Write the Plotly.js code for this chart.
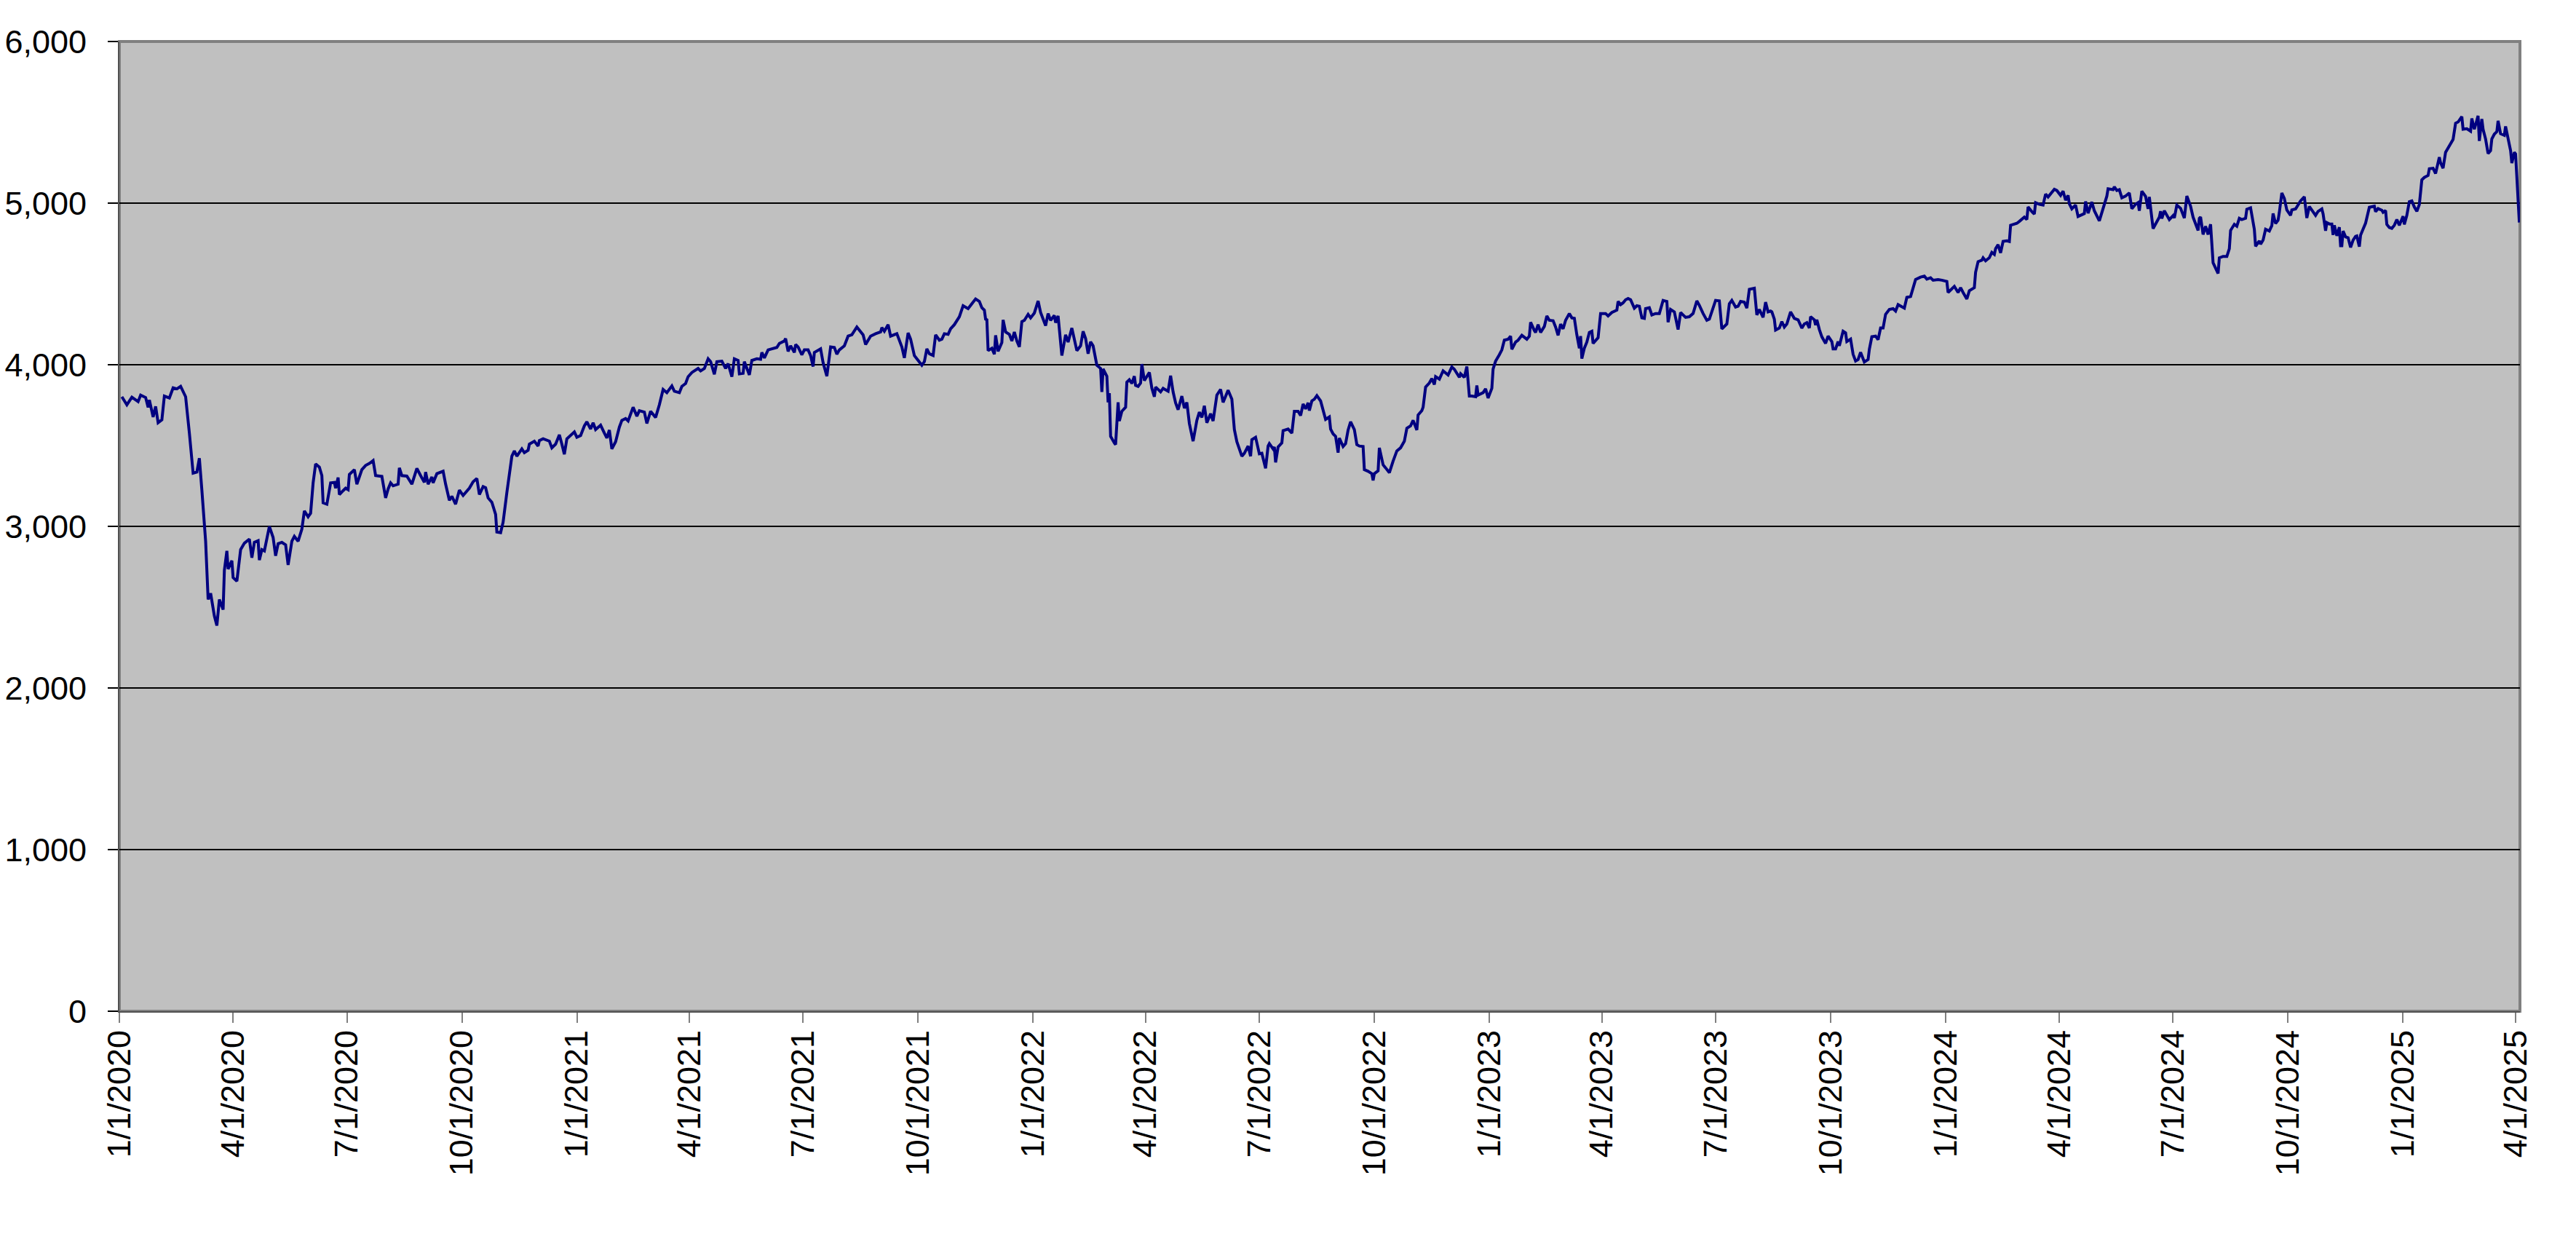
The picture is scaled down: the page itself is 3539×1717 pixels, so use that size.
<!DOCTYPE html>
<html>
<head>
<meta charset="utf-8">
<script src="https://cdn.plot.ly/plotly-3.0.1.min.js"></script>
<style>
  html, body { margin: 0; padding: 0; background: #ffffff; }
  #chart { width: 3539px; height: 1717px; }
</style>
</head>
<body>
<div id="chart"></div>
<script>
// Index closes. Dates are kept as day offsets from 1/1/2020,
// one pair of arrays per calendar year.
var days2020 = [2, 6, 10, 15, 17, 21, 23, 24, 27, 29, 31, 34, 36, 40, 43, 46, 49, 53, 56, 59,
    62, 64, 66, 69, 71, 73, 76, 78, 80, 83, 84, 86, 87, 90, 91, 94, 97, 100, 104, 106,
    108, 111, 112, 114, 116, 120, 123, 125, 127, 130, 133, 135, 138, 140, 143, 146, 148, 151, 153, 155,
    157, 160, 162, 163, 166, 169, 172, 173, 175, 176, 179, 181, 183, 184, 188, 190, 194, 197, 200, 203,
    205, 210, 213, 215, 217, 219, 223, 224, 226, 230, 234, 238, 241, 244, 245, 247, 250, 251, 254, 259,
    261, 264, 266, 269, 272, 275, 280, 283, 286, 288, 291, 293, 295, 298, 301, 302, 305, 307, 310, 314,
    316, 318, 322, 324, 327, 328, 332, 335, 336, 339, 344, 346, 349, 352, 354, 356, 358, 364];
var vals2020 = [3802, 3752, 3799, 3772, 3812, 3797, 3737, 3782, 3677, 3742, 3641, 3659, 3806, 3794, 3857, 3851, 3866, 3802, 3577, 3329,
    3336, 3422, 3224, 2908, 2548, 2586, 2446, 2386, 2548, 2485, 2728, 2848, 2736, 2788, 2683, 2661, 2856, 2896, 2921, 2806,
    2901, 2911, 2791, 2856, 2848, 2999, 2931, 2818, 2893, 2901, 2886, 2761, 2908, 2938, 2908, 2983, 3096, 3059, 3081, 3269,
    3386, 3366, 3314, 3146, 3137, 3269, 3272, 3236, 3302, 3197, 3221, 3236, 3227, 3321, 3351, 3261, 3351, 3377, 3389, 3407,
    3314, 3309, 3176, 3231, 3269, 3251, 3261, 3362, 3314, 3311, 3261, 3359, 3314, 3272, 3336, 3261, 3306, 3269, 3326, 3341,
    3261, 3161, 3186, 3137, 3224, 3191, 3236, 3276, 3296, 3197, 3246, 3239, 3176, 3149, 3074, 2965, 2961, 3026, 3209, 3434,
    3467, 3434, 3479, 3456, 3471, 3509, 3527, 3497, 3531, 3542, 3527, 3486, 3509, 3566, 3509, 3446, 3542, 3584];

var days2021 = [366, 369, 372, 374, 377, 379, 381, 385, 388, 390, 392, 394, 397, 400, 402, 405, 407, 409, 411, 414,
    416, 420, 422, 425, 429, 432, 435, 438, 442, 444, 448, 450, 453, 455, 458, 463, 465, 468, 471, 473,
    476, 478, 482, 485, 487, 490, 492, 495, 496, 499, 500, 504, 506, 510, 513, 514, 516, 519, 522, 526,
    528, 532, 533, 535, 537, 540, 541, 543, 546, 548, 551, 553, 555, 556, 561, 563, 566, 569, 572, 574,
    576, 580, 583, 586, 590, 593, 595, 597, 601, 605, 609, 610, 612, 615, 617, 622, 624, 626, 628, 631,
    633, 636, 639, 642, 644, 646, 648, 651, 653, 656, 658, 660, 663, 665, 668, 672, 675, 679, 682, 685,
    688, 690, 692, 693, 694, 695, 698, 700, 701, 703, 706, 707, 709, 712, 714, 716, 718, 720, 722, 724,
    727, 729];
var vals2021 = [3551, 3562, 3622, 3647, 3602, 3641, 3599, 3626, 3577, 3547, 3596, 3479, 3524, 3614, 3656, 3667, 3652, 3697, 3737, 3682,
    3716, 3707, 3637, 3712, 3674, 3752, 3847, 3827, 3869, 3836, 3827, 3866, 3884, 3926, 3952, 3977, 3962, 3977, 4037, 4019,
    3941, 4019, 4022, 3977, 4007, 3926, 4037, 4027, 3944, 3947, 4019, 3937, 4027, 4037, 4034, 4076, 4042, 4092, 4098, 4107,
    4132, 4147, 4162, 4083, 4117, 4076, 4125, 4110, 4061, 4092, 4092, 4057, 3989, 4076, 4098, 4012, 3929, 4110, 4107, 4065,
    4092, 4117, 4177, 4185, 4233, 4207, 4185, 4125, 4177, 4192, 4203, 4230, 4207, 4248, 4177, 4192, 4147, 4110, 4042, 4197,
    4158, 4057, 4027, 3997, 4019, 4098, 4068, 4057, 4185, 4152, 4158, 4192, 4188, 4222, 4248, 4297, 4365, 4347, 4377, 4407,
    4392, 4353, 4338, 4282, 4278, 4087, 4102, 4065, 4182, 4083, 4137, 4278, 4203, 4188, 4147, 4203, 4147, 4110, 4267, 4275,
    4312, 4290];

var days2022 = [732, 735, 737, 741, 743, 745, 748, 749, 751, 754, 757, 759, 762, 766, 769, 771, 773, 775, 777, 779,
    782, 785, 786, 787, 790, 791, 792, 793, 796, 797, 799, 800, 802, 805, 806, 808, 810, 812, 813, 815,
    817, 818, 820, 824, 826, 828, 829, 833, 835, 839, 841, 843, 845, 847, 850, 852, 854, 856, 859, 862,
    864, 866, 868, 870, 873, 875, 878, 881, 883, 885, 887, 890, 892, 894, 896, 898, 900, 903, 905, 906,
    909, 912, 914, 917, 919, 920, 923, 924, 925, 927, 930, 931, 935, 938, 940, 943, 945, 947, 949, 951,
    952, 954, 956, 958, 961, 963, 965, 968, 969, 971, 973, 975, 976, 979, 981, 983, 985, 988, 990, 992,
    995, 996, 999, 1002, 1003, 1004, 1007, 1008, 1011, 1013, 1016, 1019, 1022, 1025, 1028, 1030, 1033, 1035, 1038, 1039,
    1042, 1043, 1045, 1048, 1050, 1052, 1053, 1056, 1059, 1063, 1066, 1068, 1072, 1073, 1076, 1078, 1080, 1082, 1085, 1086,
    1087, 1091, 1093, 1095];
var vals2022 = [4320, 4395, 4323, 4242, 4317, 4275, 4305, 4260, 4302, 4057, 4185, 4140, 4227, 4087, 4117, 4207, 4162, 4068, 4142, 4117,
    3997, 3977, 3832, 3974, 3929, 3767, 3824, 3557, 3516, 3506, 3767, 3652, 3712, 3737, 3892, 3907, 3884, 3929, 3872, 3866,
    3887, 4004, 3902, 3952, 3854, 3802, 3862, 3832, 3854, 3836, 3932, 3832, 3764, 3722, 3806, 3731, 3767, 3637, 3527, 3656,
    3707, 3674, 3746, 3641, 3697, 3652, 3812, 3847, 3767, 3802, 3842, 3787, 3599, 3524, 3479, 3434, 3452, 3497, 3434, 3536,
    3551, 3449, 3452, 3359, 3497, 3512, 3479, 3491, 3396, 3491, 3516, 3592, 3602, 3577, 3712, 3712, 3686, 3757, 3727, 3764,
    3716, 3776, 3787, 3809, 3776, 3716, 3662, 3677, 3602, 3572, 3557, 3456, 3546, 3494, 3512, 3596, 3647, 3599, 3506, 3497,
    3494, 3351, 3341, 3326, 3284, 3326, 3344, 3486, 3381, 3362, 3332, 3404, 3467, 3486, 3527, 3607, 3622, 3656, 3596, 3689,
    3716, 3737, 3862, 3887, 3914, 3877, 3926, 3911, 3962, 3937, 3986, 3972, 3922, 3944, 3922, 3989, 3806, 3806, 3802, 3872,
    3812, 3827, 3851, 3794];

var days2023 = [1098, 1099, 1101, 1104, 1106, 1108, 1111, 1113, 1114, 1117, 1119, 1122, 1126, 1128, 1129, 1132, 1133, 1135, 1137, 1140,
    1142, 1144, 1147, 1149, 1151, 1153, 1155, 1157, 1159, 1160, 1162, 1164, 1166, 1168, 1169, 1170, 1172, 1174, 1176, 1178,
    1179, 1183, 1185, 1189, 1191, 1194, 1198, 1199, 1201, 1203, 1205, 1207, 1209, 1212, 1214, 1216, 1218, 1220, 1221, 1224,
    1226, 1229, 1232, 1235, 1238, 1239, 1241, 1244, 1247, 1249, 1251, 1253, 1256, 1259, 1262, 1264, 1267, 1270, 1272, 1275,
    1277, 1280, 1282, 1286, 1288, 1290, 1293, 1295, 1297, 1300, 1302, 1304, 1308, 1310, 1312, 1315, 1317, 1319, 1321, 1322,
    1324, 1325, 1328, 1330, 1332, 1334, 1337, 1340, 1343, 1346, 1348, 1350, 1352, 1353, 1356, 1357, 1358, 1360, 1362, 1365,
    1367, 1370, 1371, 1373, 1375, 1376, 1379, 1381, 1382, 1385, 1387, 1389, 1391, 1393, 1396, 1399, 1400, 1402, 1405, 1407,
    1409, 1411, 1413, 1416, 1419, 1421, 1423, 1428, 1430, 1433, 1435, 1437, 1441, 1444, 1446, 1449, 1451, 1455, 1458];
var vals2023 = [3854, 3974, 4022, 4062, 4092, 4152, 4158, 4177, 4095, 4140, 4152, 4182, 4158, 4177, 4263, 4212, 4200, 4248, 4200, 4237,
    4302, 4275, 4272, 4233, 4182, 4252, 4222, 4275, 4305, 4317, 4290, 4287, 4185, 4102, 4177, 4038, 4102, 4140, 4200, 4207,
    4132, 4167, 4317, 4317, 4302, 4323, 4338, 4392, 4372, 4383, 4402, 4410, 4402, 4350, 4365, 4362, 4290, 4287, 4347, 4353,
    4308, 4317, 4317, 4398, 4392, 4263, 4342, 4327, 4218, 4323, 4308, 4293, 4297, 4317, 4395, 4368, 4317, 4275, 4282, 4357,
    4398, 4395, 4222, 4252, 4377, 4398, 4357, 4362, 4392, 4387, 4350, 4467, 4473, 4308, 4342, 4293, 4387, 4327, 4332, 4327,
    4282, 4215, 4227, 4267, 4233, 4252, 4327, 4287, 4278, 4227, 4252, 4260, 4227, 4297, 4278, 4245, 4278, 4218, 4173, 4132,
    4177, 4143, 4098, 4098, 4143, 4117, 4207, 4197, 4143, 4158, 4065, 4023, 4032, 4077, 4017, 4032, 4095, 4173, 4177, 4155,
    4227, 4227, 4312, 4342, 4347, 4332, 4372, 4350, 4417, 4422, 4473, 4527, 4542, 4548, 4530, 4538, 4523, 4527, 4523];

var days2024 = [1462, 1463, 1466, 1468, 1471, 1473, 1475, 1478, 1480, 1484, 1485, 1487, 1490, 1491, 1493, 1496, 1498, 1500, 1501, 1503,
    1505, 1507, 1510, 1512, 1513, 1516, 1518, 1520, 1522, 1524, 1526, 1527, 1530, 1532, 1533, 1536, 1539, 1541, 1543, 1546,
    1548, 1550, 1553, 1555, 1557, 1559, 1560, 1562, 1565, 1567, 1569, 1572, 1573, 1575, 1578, 1580, 1584, 1586, 1587, 1590,
    1591, 1595, 1596, 1598, 1600, 1602, 1605, 1608, 1610, 1613, 1615, 1616, 1618, 1621, 1623, 1624, 1627, 1629, 1632, 1633,
    1634, 1636, 1640, 1643, 1644, 1646, 1649, 1652, 1654, 1657, 1659, 1663, 1664, 1665, 1667, 1669, 1671, 1673, 1675, 1679,
    1680, 1683, 1686, 1688, 1689, 1692, 1694, 1696, 1698, 1701, 1702, 1705, 1708, 1709, 1712, 1713, 1715, 1717, 1720, 1722,
    1723, 1725, 1727, 1728, 1730, 1732, 1734, 1737, 1738, 1741, 1743, 1745, 1748, 1749, 1750, 1752, 1754, 1757, 1759, 1762,
    1763, 1765, 1766, 1768, 1770, 1771, 1772, 1774, 1776, 1777, 1778, 1779, 1781, 1783, 1785, 1787, 1789, 1790, 1792, 1793,
    1795, 1797, 1800, 1804, 1805, 1807, 1810, 1811, 1813, 1814, 1816, 1818, 1820, 1822, 1824, 1826];
var vals2024 = [4515, 4447, 4467, 4485, 4447, 4477, 4447, 4407, 4458, 4477, 4572, 4638, 4647, 4662, 4643, 4662, 4695, 4683, 4718, 4743,
    4692, 4763, 4767, 4763, 4863, 4872, 4875, 4887, 4902, 4913, 4898, 4977, 4947, 4932, 5003, 4993, 4988, 5056, 5038, 5063,
    5086, 5078, 5048, 5074, 5018, 5048, 4996, 4965, 4988, 4917, 4923, 4935, 5010, 4938, 5007, 4953, 4890, 4943, 4962, 5043,
    5089, 5083, 5101, 5078, 5083, 5033, 5044, 5063, 4965, 4993, 5003, 4953, 5074, 5041, 4965, 5038, 4842, 4872, 4913, 4950,
    4905, 4953, 4898, 4923, 4908, 4988, 4968, 4908, 5044, 4980, 4913, 4831, 4906, 4914, 4806, 4857, 4806, 4869, 4631, 4565,
    4661, 4670, 4670, 4718, 4831, 4869, 4857, 4906, 4898, 4906, 4962, 4971, 4838, 4733, 4766, 4746, 4771, 4838, 4827, 4861,
    4936, 4874, 4894, 4943, 5063, 5029, 4958, 4924, 4958, 4964, 4988, 5014, 5039, 4969, 4908, 4979, 4954, 4924, 4949, 4964,
    4934, 4829, 4879, 4871, 4871, 4803, 4863, 4798, 4851, 4736, 4736, 4827, 4791, 4786, 4726, 4771, 4794, 4797, 4731, 4802,
    4839, 4876, 4974, 4981, 4947, 4966, 4956, 4943, 4954, 4868, 4849, 4844, 4863, 4898, 4863, 4909];

var days2025 = [1827, 1828, 1830, 1832, 1834, 1836, 1838, 1840, 1842, 1844, 1847, 1848, 1851, 1853, 1856, 1857, 1859, 1861, 1864, 1867,
    1869, 1871, 1874, 1875, 1878, 1881, 1882, 1884, 1885, 1887, 1888, 1890, 1891, 1893, 1895, 1897, 1898, 1900, 1902, 1903,
    1905, 1908, 1909, 1911, 1913, 1914, 1916, 1917, 1920];
var vals2025 = [4919, 4868, 4924, 5009, 5014, 4976, 4949, 4991, 5144, 5159, 5171, 5213, 5216, 5183, 5284, 5249, 5216, 5314, 5352, 5394,
    5494, 5502, 5535, 5457, 5460, 5445, 5524, 5457, 5484, 5540, 5385, 5520, 5457, 5397, 5307, 5325, 5397, 5427, 5442, 5509,
    5430, 5420, 5475, 5404, 5325, 5247, 5314, 5304, 4880];

var yTicks = [0, 1000, 2000, 3000, 4000, 5000, 6000];

var FONT = 'Liberation Sans, Arial, sans-serif';

// turn the day offsets into ISO dates for the date axis
var BASE = Date.UTC(2020, 0, 1);
function toDate(d) {
    return new Date(BASE + d * 86400000).toISOString().slice(0, 10);
}

var allDays = days2020.concat(days2021, days2022, days2023, days2024, days2025);
var allVals = vals2020.concat(vals2021, vals2022, vals2023, vals2024, vals2025);

var traces = [{
    x: allDays.map(toDate),
    y: allVals,
    type: 'scatter',
    mode: 'lines',
    line: { color: '#000080', width: 4 },
    hoverinfo: 'skip'
}];

var layout = {
    width: 3539,
    height: 1717,
    paper_bgcolor: '#ffffff',
    plot_bgcolor: '#c0c0c0',
    showlegend: false,
    margin: { l: 164, r: 77, t: 57, b: 328, pad: 0 },
    xaxis: {
        type: 'date',
        range: ['2020-01-01', '2025-04-04 12:00'],
        tick0: '2020-01-01',
        dtick: 'M3',
        tickformat: '%-m/%-d/%Y',
        tickangle: -90,
        ticks: 'outside',
        ticklen: 14,
        tickwidth: 2,
        tickcolor: '#808080',
        ticklabelstandoff: -8, // labels sit just under the tick ends
        showgrid: false,
        zeroline: false,
        showline: true,
        linecolor: '#505050',
        linewidth: 2,
        tickfont: { family: FONT, size: 45, color: '#000000' },
        fixedrange: true
    },
    yaxis: {
        range: [0, 6000],
        tickvals: yTicks,
        tickformat: ',d',
        ticks: 'outside',
        ticklen: 14,
        tickwidth: 2,
        tickcolor: '#000000',
        ticklabelstandoff: 20,
        showgrid: true,
        gridcolor: '#000000',
        gridwidth: 1.5,
        zeroline: false,
        showline: true,
        linecolor: '#505050',
        linewidth: 2,
        tickfont: { family: FONT, size: 45, color: '#000000' },
        fixedrange: true
    },
    // grey frame round the plot area, as drawn by the spreadsheet
    shapes: [{
        type: 'rect',
        xref: 'paper', yref: 'paper',
        x0: 0, x1: 1, y0: 0, y1: 1,
        line: { color: '#808080', width: 4 },
        layer: 'below'
    }]
};

Plotly.newPlot('chart', traces, layout, { displayModeBar: false, staticPlot: true });
</script>
</body>
</html>
